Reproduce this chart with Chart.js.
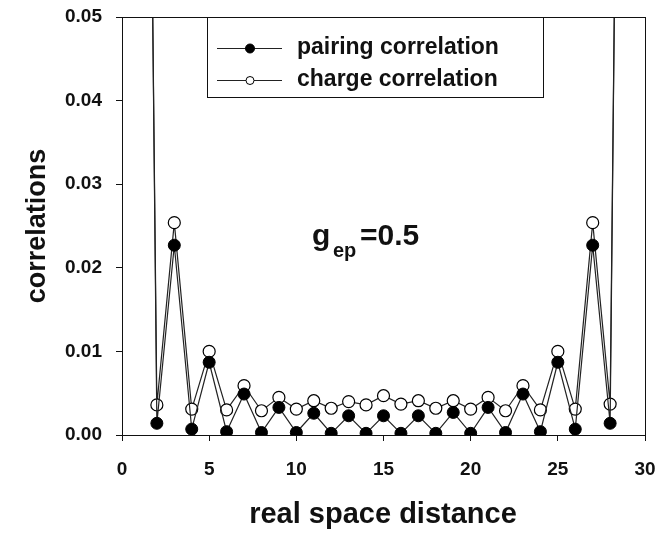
<!DOCTYPE html>
<html>
<head>
<meta charset="utf-8">
<script src="https://cdn.jsdelivr.net/npm/chart.js@4.4.1/dist/chart.umd.min.js"></script>
<style>
  html, body { margin: 0; padding: 0; background: #fff; }
  #wrap { width: 656px; height: 540px; }
</style>
</head>
<body>
<div id="wrap"><canvas id="corrChart" width="656" height="540"></canvas></div>
<script>
// ── data ──────────────────────────────────────
const distance = [1, 2, 3, 4, 5, 6, 7, 8, 9, 10, 11, 12, 13, 14, 15,
  16, 17, 18, 19, 20, 21, 22, 23, 24, 25, 26, 27, 28, 29];
const pairing = [0.205, 0.0014, 0.0227, 0.0007, 0.0087, 0.0004, 0.0049, 0.0003, 0.0033, 0.0003,
  0.0026, 0.0002, 0.0023, 0.0002, 0.0023, 0.0002, 0.0023, 0.0002, 0.0027, 0.0002,
  0.0033, 0.0003, 0.0049, 0.0004, 0.0087, 0.0007, 0.0227, 0.0014, 0.205];
const charge = [0.200, 0.0036, 0.0254, 0.0031, 0.0100, 0.0030, 0.0059, 0.0029, 0.0045, 0.0031,
  0.0041, 0.0032, 0.0040, 0.0036, 0.0047, 0.0037, 0.0041, 0.0032, 0.0041, 0.0031,
  0.0045, 0.0029, 0.0059, 0.0030, 0.0100, 0.0031, 0.0254, 0.0037, 0.200];
const xTicks = [0, 5, 10, 15, 20, 25, 30];
const yTicks = [0.00, 0.01, 0.02, 0.03, 0.04, 0.05];
const seriesNames = ["pairing correlation", "charge correlation"];
const xTitle = "real space distance";
const yTitle = "correlations";

const FONT = "'Liberation Sans', Arial, sans-serif";
const INK = "#111";

const toPoints = (ys) => distance.map((x, i) => ({ x, y: ys[i] }));

// frame on top/right, axis titles, legend box and the coupling label
const decorPlugin = {
  id: "decor",
  afterDraw(chart) {
    const { ctx, chartArea: a } = chart;
    ctx.save();
    ctx.strokeStyle = INK;
    ctx.lineWidth = 1;
    ctx.strokeRect(a.left + 0.5, a.top + 0.5, a.right - a.left, a.bottom - a.top);

    // axis titles
    ctx.fillStyle = INK;
    ctx.textAlign = "center";
    ctx.textBaseline = "middle";
    ctx.font = "bold 29px " + FONT;
    ctx.fillText(xTitle, 383, 515);
    ctx.save();
    ctx.translate(38, (a.top + a.bottom) / 2);
    ctx.rotate(-Math.PI / 2);
    ctx.font = "bold 27px " + FONT;
    ctx.fillText(yTitle, 0, 0);
    ctx.restore();
    ctx.textAlign = "left";

    // legend
    const bx = 207, by = a.top, bw = 336, bh = 80;
    ctx.fillStyle = "#fff";
    ctx.fillRect(bx, by, bw, bh);
    ctx.strokeRect(bx + 0.5, by + 0.5, bw, bh);
    const rows = [
      { y: by + 31, filled: true, label: seriesNames[0] },
      { y: by + 63, filled: false, label: seriesNames[1] },
    ];
    ctx.font = "bold 23px " + FONT;
    rows.forEach((r) => {
      ctx.strokeStyle = "#222";
      ctx.beginPath();
      ctx.moveTo(217, r.y + 0.5);
      ctx.lineTo(282, r.y + 0.5);
      ctx.stroke();
      ctx.beginPath();
      ctx.arc(250, r.y + 0.5, r.filled ? 4.5 : 4, 0, Math.PI * 2);
      ctx.fillStyle = r.filled ? "#000" : "#fff";
      ctx.fill();
      ctx.strokeStyle = "#000";
      ctx.stroke();
      ctx.fillStyle = INK;
      ctx.fillText(r.label, 297, r.y);
    });

    // g_ep = 0.5
    ctx.textBaseline = "alphabetic";
    ctx.fillStyle = INK;
    ctx.font = "bold 30px " + FONT;
    ctx.fillText("g", 312, 245);
    ctx.font = "bold 20px " + FONT;
    ctx.fillText("ep", 333, 257);
    ctx.font = "bold 30px " + FONT;
    ctx.fillText("=0.5", 360, 245);
    ctx.restore();
  },
};

new Chart(document.getElementById("corrChart"), {
  type: "scatter",
  data: {
    datasets: [
      {
        label: seriesNames[0],
        data: toPoints(pairing),
        showLine: true,
        borderColor: "#222",
        borderWidth: 1.2,
        pointRadius: 6,
        pointBackgroundColor: "#000",
        pointBorderColor: "#000",
        pointBorderWidth: 1,
      },
      {
        label: seriesNames[1],
        data: toPoints(charge),
        showLine: true,
        borderColor: "#222",
        borderWidth: 1.2,
        pointRadius: 6,
        pointBackgroundColor: "#fff",
        pointBorderColor: "#000",
        pointBorderWidth: 1.2,
      },
    ],
  },
  options: {
    responsive: false,
    animation: false,
    layout: { padding: { left: 0, right: 11, top: 17, bottom: 0 } },
    plugins: { legend: { display: false }, tooltip: { enabled: false } },
    scales: {
      x: {
        type: "linear",
        min: 0,
        max: 30,
        afterBuildTicks: (s) => { s.ticks = xTicks.map((v) => ({ value: v })); },
        afterFit: (s) => { s.height = 105; s.paddingLeft = 0; s.paddingRight = 0; },
        grid: { drawOnChartArea: false, tickLength: 6, color: INK },
        border: { color: INK, width: 1 },
        ticks: { color: INK, padding: 17, font: { family: FONT, size: 19, weight: "bold" } },
      },
      y: {
        min: 0,
        max: 0.05,
        afterBuildTicks: (s) => { s.ticks = yTicks.map((v) => ({ value: v })); },
        afterFit: (s) => { s.width = 122; s.paddingTop = 0; s.paddingBottom = 0; },
        grid: { drawOnChartArea: false, tickLength: 6, color: INK },
        border: { color: INK, width: 1 },
        ticks: {
          color: INK,
          padding: 14,
          font: { family: FONT, size: 19, weight: "bold" },
          callback: (v) => v.toFixed(2),
        },
      },
    },
  },
  plugins: [decorPlugin],
});
</script>
</body>
</html>
